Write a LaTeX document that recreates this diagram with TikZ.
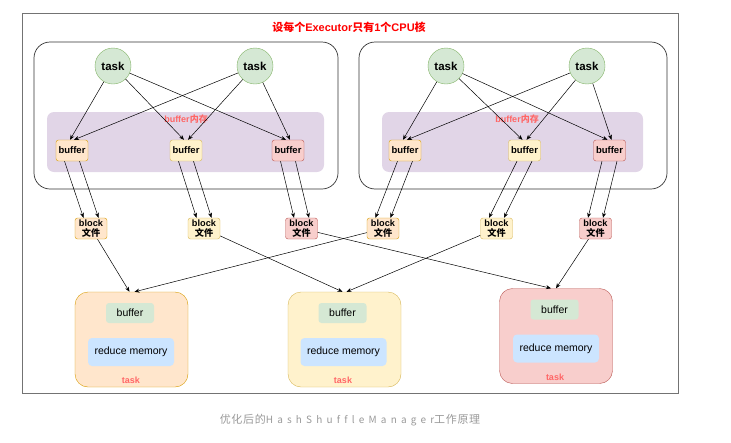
\documentclass[tikz,border=0pt]{standalone}
\usepackage{fontspec}
\setmainfont{Liberation Sans}
\newfontfamily\cjk{Noto Sans CJK SC}
\newfontfamily\cjkwide[LetterSpace=6]{Noto Sans CJK SC}
\newfontfamily\latwide[LetterSpace=42,Ligatures=NoCommon]{Noto Sans CJK SC}
\usepackage{xcolor}
\usepackage{tikz}
\usetikzlibrary{arrows.meta}

\definecolor{greenfill}{HTML}{D5E8D4}
\definecolor{greenline}{HTML}{82B366}
\definecolor{orangefill}{HTML}{FFE6CC}
\definecolor{orangeline}{HTML}{D79B00}
\definecolor{yellowfill}{HTML}{FFF2CC}
\definecolor{yellowline}{HTML}{D6B656}
\definecolor{redfill}{HTML}{F8CECC}
\definecolor{redline}{HTML}{B85450}
\definecolor{purplefill}{HTML}{E1D5E7}
\definecolor{bluefill}{HTML}{CCE5FF}
\definecolor{pinktext}{HTML}{FF6666}
\definecolor{captiongray}{HTML}{999999}

\tikzset{
	arr/.style = {-{Stealth[length=5pt,width=4pt]}, line width=0.5pt},
	executor/.style = {draw=black!80, line width=0.7pt, rounded corners=16pt},
	maptask/.style = {circle, draw=greenline, fill=greenfill, minimum size=36pt, inner sep=0pt,
		font=\bfseries\fontsize{11.5}{13}\selectfont},
	buf/.style = {draw=#1line, fill=#1fill, rounded corners=2.5pt, minimum width=32pt,
		minimum height=21pt, inner sep=0pt, font=\bfseries\fontsize{9.5}{11}\selectfont},
	blockfile/.style = {buf=#1, align=center, font=\bfseries\fontsize{9.2}{10.8}\selectfont},
	reducer/.style = {draw=#1line, fill=#1fill, rounded corners=13pt, minimum width=113pt,
		minimum height=95pt, inner sep=0pt},
	inbuf/.style = {fill=greenfill, rounded corners=3pt, minimum width=48pt, minimum height=20pt,
		inner sep=0pt, font=\fontsize{10.5}{12}\selectfont},
	inmem/.style = {fill=bluefill, rounded corners=4pt, minimum width=86pt, minimum height=28pt,
		inner sep=0pt, font=\fontsize{10.5}{12}\selectfont},
	redlabel/.style = {text=pinktext, inner sep=0pt, font=\bfseries\fontsize{9}{11}\selectfont}
}

\begin{document}
\begin{tikzpicture}[x=1pt,y=-1pt]
	\useasboundingbox (0,0) rectangle (731,442);
	\draw[black!55, line width=0.8pt] (22,13) rectangle (678,393);
	\node[text=red, font=\bfseries\fontsize{11}{13}\selectfont] (head) at (349,27)
		{{\cjk 设每个}Executor{\cjk 只有}1{\cjk 个}CPU{\cjk 核}};

	% two executors
	\draw[executor] (34,42) rectangle (338,189) (359,42) rectangle (667,189);
	\fill[purplefill, rounded corners=7pt] (47,112) rectangle (324,172) (382,112) rectangle (643,172);
	\node[redlabel] (mem1) at (186,119) {buffer{\cjk 内存}};
	\node[redlabel] (mem2) at (517,119) {buffer{\cjk 内存}};

	\foreach \n/\x in {t1/113,t2/255,t3/446,t4/587}
		\node[maptask] (\n) at (\x,66) {task};

	\foreach \i/\x/\y/\c in {1/72/91/orange,2/186/204/yellow,3/288/301.5/red,
		4/405/383/orange,5/524.5/496.5/yellow,6/609.5/595.5/red} {
		\node[buf=\c] (b\i) at (\x,150.5) {buffer};
		\node[blockfile=\c] (k\i) at (\y,228.5) {block\\{\cjk 文件}};
		\foreach \d in {-7.5,7.5}
			\draw[arr] ([xshift=\d]b\i.south) -- ([xshift=\d]k\i.north);
	}

	\foreach \t/\s in {t1/-2,t2/2}
		\foreach \b in {b1,b2,b3}
			\draw[arr] (\t) -- ([xshift=\s]\b.north);
	\foreach \t/\s in {t3/-2,t4/2}
		\foreach \b in {b4,b5,b6}
			\draw[arr] (\t) -- ([xshift=\s]\b.north);

	% reduce side
	\node[reducer=orange] (rA) at (131.5,339.5) {};
	\node[inbuf] (rAbuf) at (130,313) {buffer};
	\node[inmem] (rAmem) at (131,352) {reduce memory};
	\node[redlabel] (rAlab) at (131,380) {task};

	\node[reducer=yellow] (rB) at (344.5,339.5) {};
	\node[inbuf] (rBbuf) at (342.5,313) {buffer};
	\node[inmem] (rBmem) at (343.5,352) {reduce memory};
	\node[redlabel] (rBlab) at (343,380) {task};

	\node[reducer=red] (rC) at (556,336) {};
	\node[inbuf] (rCbuf) at (554.5,309.5) {buffer};
	\node[inmem] (rCmem) at (556,348.5) {reduce memory};
	\node[redlabel] (rClab) at (555,377) {task};

	\foreach \k/\r/\s in {k1/rA/-2,k4/rA/3,k2/rB/-2,k5/rB/2,k3/rC/-5,k6/rC/0}
		\draw[arr] (\k) -- ([xshift=\s]\r.north);

	\node[text=captiongray, font=\fontsize{11}{13}\selectfont] (cap) at (350,420)
		{{\cjkwide 优化后的}{\latwide\fontsize{10}{12}\selectfont HashShuffleManager}{\cjkwide 工作原理}};
\end{tikzpicture}
\end{document}
